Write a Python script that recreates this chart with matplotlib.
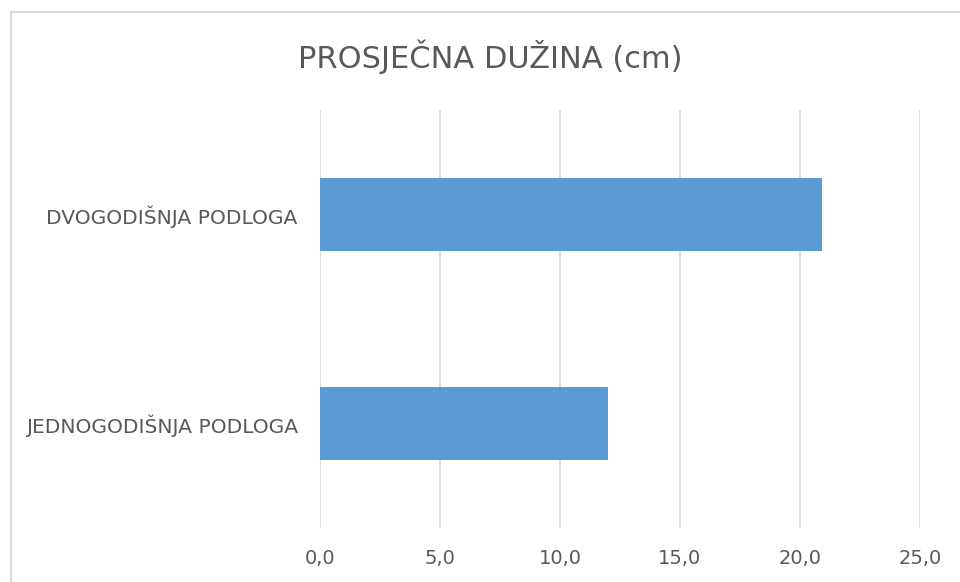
import matplotlib.pyplot as plt
from matplotlib.patches import Rectangle
from matplotlib.ticker import FuncFormatter

plt.rcParams['font.family'] = ['Liberation Sans Narrow', 'DejaVu Sans']

categories = ['JEDNOGODIŠNJA PODLOGA', 'DVOGODIŠNJA PODLOGA']
values = [12.0, 20.9]
x_ticks = [0, 5, 10, 15, 20, 25]

text_color = '#595959'
grid_color = '#d9d9d9'

fig = plt.figure(figsize=(9.6, 5.82), dpi=100)
ax = fig.add_axes([320 / 960, 1 - 528 / 582, 600 / 960, 418 / 582])

ax.barh(range(len(categories)), values, height=0.35, color='#5B9BD5', zorder=3)

ax.set_xlim(0, 25)
ax.set_ylim(-0.5, len(categories) - 0.5)
ax.set_xticks(x_ticks)
ax.xaxis.set_major_formatter(FuncFormatter(lambda v, p: f'{v:.1f}'.replace('.', ',')))
ax.set_yticks(range(len(categories)))
ax.set_yticklabels(categories)

ax.grid(axis='x', color=grid_color, linewidth=1.2, zorder=0)
for s in ax.spines.values():
    s.set_visible(False)
ax.tick_params(axis='both', length=0, colors=text_color, labelsize=14)
ax.tick_params(axis='x', pad=15)
ax.tick_params(axis='y', pad=16, labelsize=14.6)

fig.text(490 / 960, 1 - 57 / 582, 'PROSJEČNA DUŽINA (cm)', ha='center', va='center',
         fontsize=22, color=text_color)

# outer chart border (cropped at right and bottom)
fig.patches.append(Rectangle((11 / 960, -0.1), 1.2, (582 - 12) / 582 + 0.1,
                             transform=fig.transFigure, fill=False,
                             edgecolor=grid_color, linewidth=1.5))

fig.savefig('out.png', dpi=100)
